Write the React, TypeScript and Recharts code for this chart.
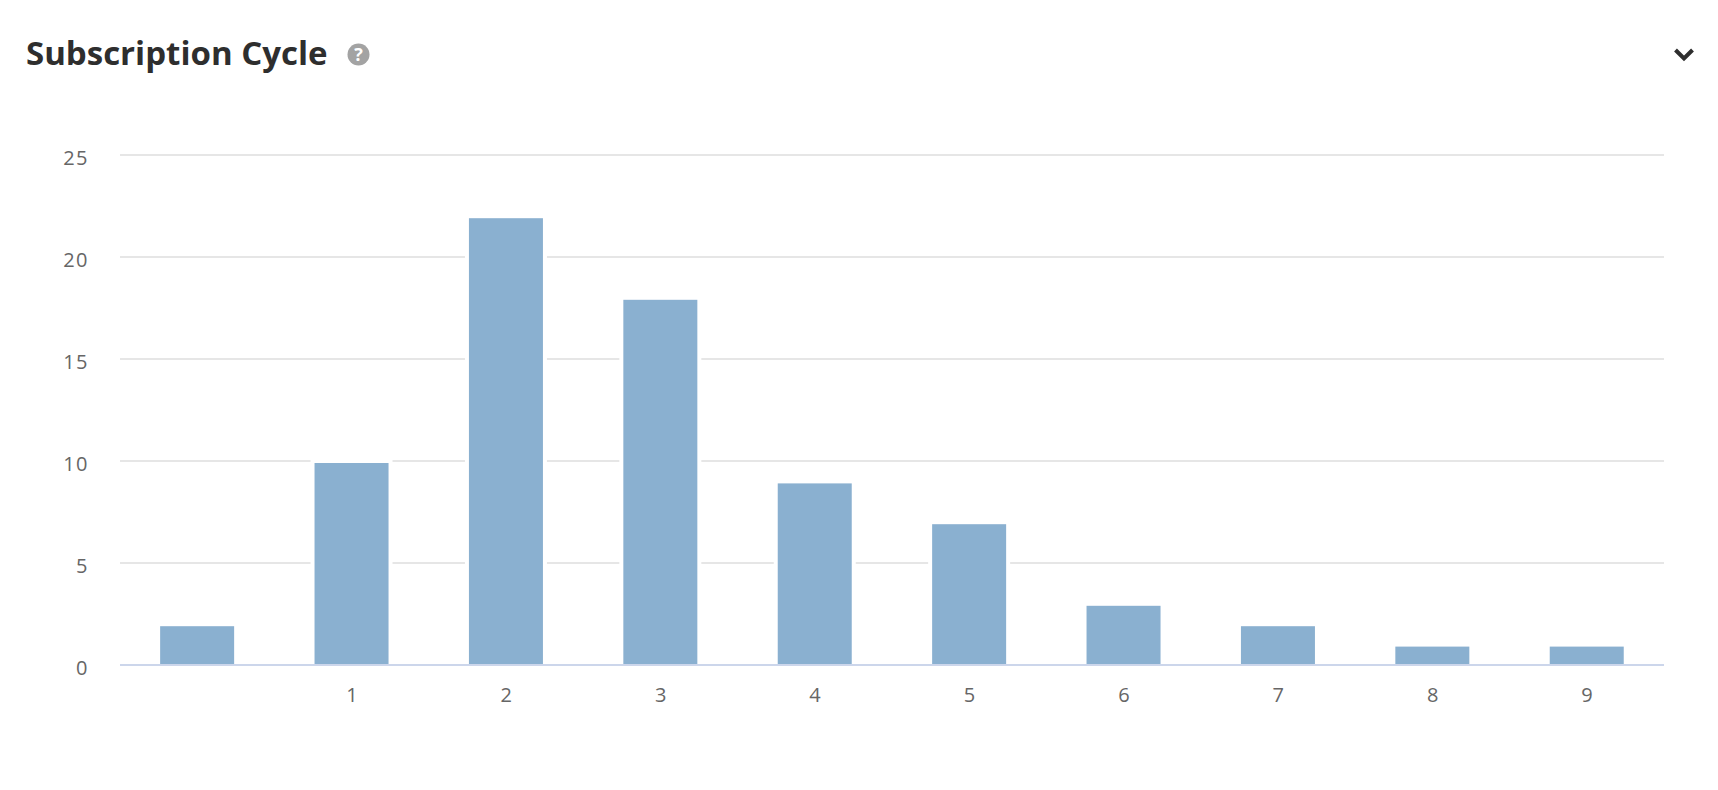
import React from "react";
import { BarChart, Bar, XAxis, YAxis, CartesianGrid } from "recharts";

const categories = ["", "1", "2", "3", "4", "5", "6", "7", "8", "9"];
const counts = [2, 10, 22, 18, 9, 7, 3, 2, 1, 1];
const yTicks = [0, 5, 10, 15, 20, 25];
const rows = categories.map((c, i) => ({ cycle: c, key: i, count: counts[i] }));
const font = "'Open Sans', sans-serif";

const OutlinedBar = (p: any) => (
  <g>
    <rect x={p.x - 2} y={p.y - 2} width={p.width + 4} height={p.height + 2} fill="#ffffff" />
    <rect x={p.x + 2} y={p.y + 2} width={p.width - 4} height={p.height - 2} fill="#8ab0d0" />
  </g>
);

export default function App() {
  return (
    <div style={{ position: "absolute", left: 0, top: 0, width: 1718, height: 790, background: "#fff", overflow: "hidden" }}>
      <div style={{ position: "absolute", left: 26, top: 30, fontFamily: font, fontWeight: 700, fontSize: 33, lineHeight: "46px", color: "#2e2e2e", whiteSpace: "nowrap" }}>
        Subscription Cycle
      </div>
      <svg style={{ position: "absolute", left: 347, top: 43 }} width="23" height="23" viewBox="0 0 23 23">
        <circle cx="11.5" cy="11.5" r="11" fill="#a3a3a3" />
        <text x="11.5" y="18" textAnchor="middle" fontFamily={font} fontWeight={700} fontSize="18" fill="#fff">?</text>
      </svg>
      <svg style={{ position: "absolute", left: 1673, top: 47 }} width="22" height="16" viewBox="0 0 22 16">
        <path d="M2.5 3 L11 11.5 L19.5 3" fill="none" stroke="#2e2e2e" strokeWidth="4" />
      </svg>
      <div style={{ position: "absolute", left: 0, top: 0 }}>
        <BarChart width={1718} height={790} data={rows} margin={{ top: 155, right: 54, bottom: 95, left: 0 }} barCategoryGap="24.7%">
          <CartesianGrid vertical={false} stroke="#e6e6e6" strokeWidth={2} />
          <YAxis
            width={120}
            domain={[0, 25]}
            ticks={yTicks}
            tickLine={false}
            axisLine={false}
            tickSize={0}
            tickMargin={31}
            tick={{ fill: "#666666", fontSize: 20, fontFamily: font, letterSpacing: 1.5, dy: 3 }}
          />
          <Bar dataKey="count" fill="#8ab0d0" shape={OutlinedBar} isAnimationActive={false} />
          <XAxis
            dataKey="key"
            tickFormatter={(i: number) => categories[i]}
            interval={0}
            tickLine={false}
            axisLine={{ stroke: "#ccd6eb", strokeWidth: 2 }}
            tickMargin={17}
            tick={{ fill: "#666666", fontSize: 20, fontFamily: font, letterSpacing: 1.5, dx: 1 }}
          />
        </BarChart>
      </div>
    </div>
  );
}
